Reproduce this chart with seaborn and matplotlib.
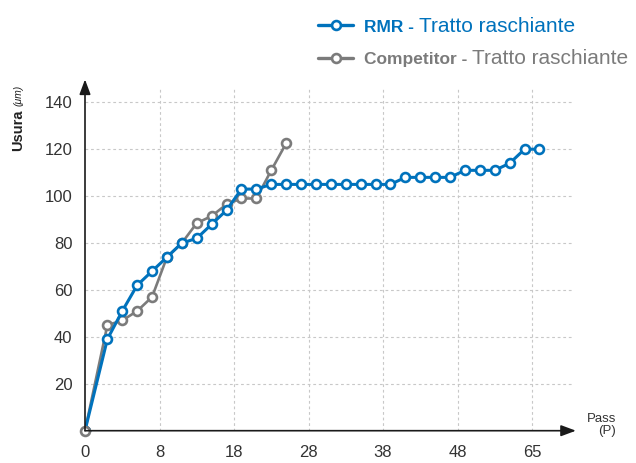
import matplotlib
matplotlib.use("Agg")
import matplotlib.pyplot as plt
import pandas as pd
import seaborn as sns
from matplotlib.lines import Line2D

# ---- data (x = position on the ordinal pass axis, y = wear in µm) ----
rmr_x = [0, 3, 5, 7, 9, 11, 13, 15, 17, 19, 21, 23, 25, 27, 29, 31, 33, 35, 37, 39,
         41, 43, 45, 47, 49, 51, 53, 55, 57, 59, 61]
rmr_y = [0, 39, 51, 62, 68, 74, 80, 82, 88, 94, 103, 103, 105, 105, 105, 105, 105, 105,
         105, 105, 105, 108, 108, 108, 108, 111, 111, 111, 114, 120, 120]
comp_x = [0, 3, 5, 7, 9, 11, 13, 15, 17, 19, 21, 23, 25, 27]
comp_y = [0, 45, 47, 51, 57, 74, 80, 88.5, 91.5, 96.5, 99, 99, 111, 122.5]
x_tick_pos = [0, 10, 20, 30, 40, 50, 60]
x_tick_labels = ["0", "8", "18", "28", "38", "48", "65"]
y_ticks = [20, 40, 60, 80, 100, 120, 140]

BLUE = "#0072bc"
GRAY = "#7b7b7b"
TXT = "#333333"
REG = ["Liberation Sans", "DejaVu Sans"]

sns.set_theme(style="white")
plt.rcParams["font.family"] = REG

W, H = 636, 463
fig = plt.figure(figsize=(W / 100, H / 100), dpi=100)
L, R, B, T = 85, 572, 430.7, 88
ax = fig.add_axes([L / W, (H - B) / H, (R - L) / W, (B - T) / H])

df_rmr = pd.DataFrame({"pos": rmr_x, "usura": rmr_y})
df_comp = pd.DataFrame({"pos": comp_x, "usura": comp_y})

mk = dict(marker="o", markersize=6.4, markeredgewidth=1.9, markerfacecolor="white")
sns.lineplot(data=df_comp, x="pos", y="usura", ax=ax, color=GRAY, linewidth=1.9,
             sort=False, estimator=None, markeredgecolor=GRAY, zorder=3, **mk)
sns.lineplot(data=df_rmr, x="pos", y="usura", ax=ax, color=BLUE, linewidth=2.2,
             sort=False, estimator=None, markeredgecolor=BLUE, zorder=4, **mk)
# first competitor marker sits on top at the origin
ax.plot(comp_x[:1], comp_y[:1], linestyle="none", color=GRAY, markeredgecolor=GRAY,
        zorder=5, clip_on=False, **mk)

ax.set_xlim(0, (R - L) / 7.45)
ax.set_ylim(0, (B - T) / 2.3457)
ax.set_xticks(x_tick_pos)
ax.set_xticklabels(x_tick_labels)
ax.set_yticks(y_ticks)
ax.set_xlabel("")
ax.set_ylabel("")
ax.tick_params(axis="both", length=0, labelsize=12, labelcolor=TXT)
ax.tick_params(axis="x", pad=10.5)
ax.tick_params(axis="y", pad=9)

ax.grid(True, color="#c8c8c8", linestyle=(0, (2.5, 2.5)), linewidth=0.8)
ax.get_xgridlines()[0].set_visible(False)
for s in ax.spines.values():
    s.set_visible(False)

arrow = dict(arrowstyle="-|>,head_length=0.75,head_width=0.28", color="#1a1a1a",
             linewidth=1.2, shrinkA=0, shrinkB=0)
ax.annotate("", xy=(1.008, 0), xytext=(0, 0), xycoords="axes fraction",
            arrowprops=arrow, annotation_clip=False, zorder=6)
ax.annotate("", xy=(0, 1.025), xytext=(0, 0), xycoords="axes fraction",
            arrowprops=arrow, annotation_clip=False, zorder=6)


def fx(px):
    return px / W


def fy(py):
    return 1 - py / H


fig.canvas.draw()
rend = fig.canvas.get_renderer()

# axis titles
fig.text(fx(616), fy(413), "Pass\n(P)", ha="right", va="top", multialignment="right",
         fontsize=9.5, color=TXT, linespacing=1.05)
tu = fig.text(fx(18), fy(151), "Usura", rotation=90, ha="center", va="bottom",
              fontsize=10.5, color="#222222", fontweight="bold")
bu = tu.get_window_extent(rend)
fig.text(fx(19), 1 - (H - bu.y1 - 3) / H, "(\u03bcm)", rotation=90, ha="center",
         va="bottom", fontsize=7.5, color="#222222", fontstyle="italic")

# custom legend at top right
rows = [(BLUE, "RMR -", 25, 31.7), (GRAY, "Competitor -", 58.3, 64)]
for col, name, ly, base in rows:
    fig.add_artist(Line2D([fx(318), fx(353)], [fy(ly), fy(ly)], color=col, linewidth=2.4,
                          transform=fig.transFigure))
    fig.add_artist(Line2D([fx(335.5)], [fy(ly)], color=col, marker="o", markersize=6.4,
                          markeredgewidth=1.9, markerfacecolor="white",
                          markeredgecolor=col, transform=fig.transFigure))
    t1 = fig.text(fx(364), fy(base), name, ha="left", va="baseline", fontsize=12.5,
                  color=col, fontweight="bold")
    bb = t1.get_window_extent(rend)
    fig.text((bb.x1 + 5) / W, fy(base), "Tratto raschiante", ha="left", va="baseline",
             fontsize=15, color=col)

fig.savefig("out.png", dpi=100)
